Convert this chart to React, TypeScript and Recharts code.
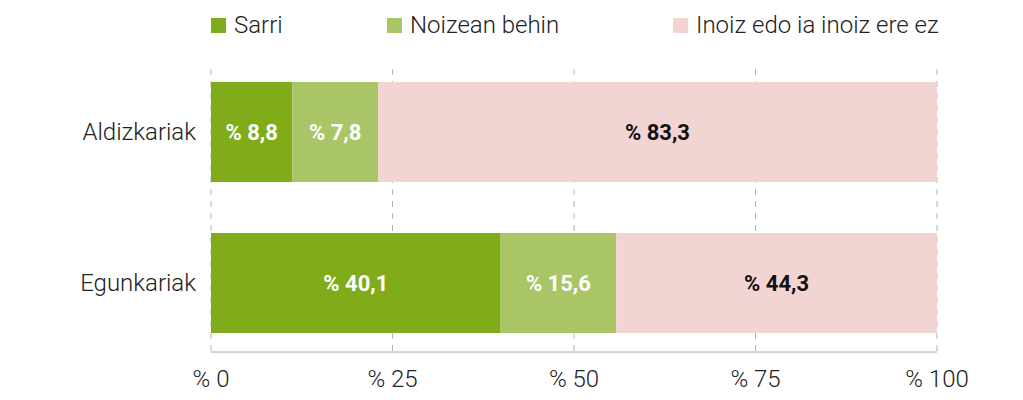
import React from "react";
import {
  BarChart,
  Bar,
  XAxis,
  YAxis,
  CartesianGrid,
  LabelList,
} from "recharts";

// ─── Data ─────────────────────────────────────────────────────────────────────

const categories = ["Aldizkariak", "Egunkariak"];

// bar lengths as drawn in the picture
const sarriValues = [11.2, 39.9];
const noizeanValues = [11.8, 15.9];
const inoizValues = [77.0, 44.2];

// printed labels
const sarriLabels = ["8,8", "40,1"];
const noizeanLabels = ["7,8", "15,6"];
const inoizLabels = ["83,3", "44,3"];

const xTicks = [0, 25, 50, 75, 100];

const seriesNames = ["Sarri", "Noizean behin", "Inoiz edo ia inoiz ere ez"];
const seriesColors = ["#80ac1a", "#aac566", "#f2d5d3"];

const chartData = categories.map((c, i) => ({
  category: c,
  sarri: sarriValues[i],
  noizean: noizeanValues[i],
  inoiz: inoizValues[i],
  sarriLabel: sarriLabels[i],
  noizeanLabel: noizeanLabels[i],
  inoizLabel: inoizLabels[i],
}));

const FONT = "Roboto, 'Noto Sans', sans-serif";

// ─── Legend ───────────────────────────────────────────────────────────────────

const legendOffsets = [203, 379, 665];

function TopLegend() {
  return (
    <>
      {seriesNames.map((name, i) => (
        <div
          key={name}
          style={{
            position: "absolute",
            left: legendOffsets[i],
            top: 2,
            height: 30,
            display: "flex",
            alignItems: "center",
            fontFamily: FONT,
            fontSize: 24,
            fontWeight: 300,
            color: "#222",
            whiteSpace: "nowrap",
          }}
        >
          <span
            style={{
              display: "inline-block",
              width: 15,
              height: 15,
              background: seriesColors[i],
              marginRight: 8,
            }}
          />
          {name}
        </div>
      ))}
    </>
  );
}

const labelStyle = (fill: string) => ({
  fill,
  fontSize: 22,
  fontWeight: 700,
  fontFamily: FONT,
});

const tickStyle = { fontSize: 24, fontWeight: 300, fill: "#222", fontFamily: FONT };

export default function App() {
  return (
    <div style={{ position: "relative", width: 1007, height: 392 }}>
      <BarChart
        width={1007}
        height={392}
        data={chartData}
        layout="vertical"
        margin={{ top: 61, right: 78, left: 0, bottom: 0 }}
        barSize={100}
      >
        <CartesianGrid horizontal={false} stroke="#b5b5b5" strokeDasharray="6 6" />
        <XAxis
          type="number"
          domain={[0, 100]}
          ticks={xTicks}
          tickFormatter={(v) => `% ${v}`}
          height={48}
          axisLine={{ stroke: "#aaa" }}
          tickLine={false}
          tickSize={0}
          tickMargin={18}
          tick={tickStyle}
        />
        <YAxis
          type="category"
          dataKey="category"
          width={203}
          padding={{ top: -13, bottom: -6 }}
          axisLine={false}
          tickLine={false}
          tickSize={0}
          tickMargin={15}
          tick={tickStyle}
        />
        <Bar dataKey="sarri" name={seriesNames[0]} stackId="a" fill={seriesColors[0]} isAnimationActive={false}>
          <LabelList dataKey="sarriLabel" position="center" formatter={(v: any) => `% ${v}`} style={labelStyle("#fff")} />
        </Bar>
        <Bar dataKey="noizean" name={seriesNames[1]} stackId="a" fill={seriesColors[1]} isAnimationActive={false}>
          <LabelList dataKey="noizeanLabel" position="center" formatter={(v: any) => `% ${v}`} style={labelStyle("#fff")} />
        </Bar>
        <Bar dataKey="inoiz" name={seriesNames[2]} stackId="a" fill={seriesColors[2]} isAnimationActive={false}>
          <LabelList dataKey="inoizLabel" position="center" formatter={(v: any) => `% ${v}`} style={labelStyle("#111")} />
        </Bar>
      </BarChart>
      <TopLegend />
    </div>
  );
}
